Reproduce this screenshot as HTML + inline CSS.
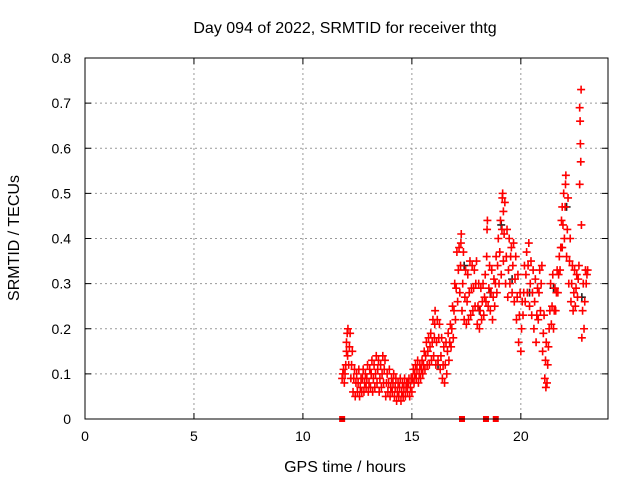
<!DOCTYPE html>
<html><head><meta charset="utf-8"><style>
body{margin:0;background:#fff;}
svg{display:block;font-family:"Liberation Sans",sans-serif;}
</style></head><body>
<svg id="chart" width="640" height="480">
<text x="345" y="33" font-size="16" text-anchor="middle">Day 094 of 2022, SRMTID for receiver thtg</text>
<text x="345" y="472" font-size="16" text-anchor="middle">GPS time / hours</text>
<text transform="translate(19,238) rotate(-90)" font-size="16" text-anchor="middle">SRMTID / TECUs</text>
<g id="grid"></g><g id="ticks"></g><g id="marks"></g>
<rect x="85" y="58" width="523" height="361" fill="none" stroke="#000" stroke-width="1"/>
</svg>
<script>
const xTicks=[0,5,10,15,20];
const yTicks=[0,0.1,0.2,0.3,0.4,0.5,0.6,0.7,0.8];
const yTickLabels=["0","0.1","0.2","0.3","0.4","0.5","0.6","0.7","0.8"];
const hours=[11.8,11.9,12.0,12.1,12.2,12.3,12.4,12.5,12.6,12.7,12.8,12.9,13.0,13.1,13.2,13.3,13.4,13.5,13.6,13.7,13.8,13.9,14.0,14.1,14.2,14.3,14.4,14.5,14.6,14.7,14.8,14.9,15.0,15.1,15.2,15.3,15.4,15.5,15.6,15.7,15.8,15.9,16.0,16.1,16.2,16.3,16.4,16.5,16.6,16.7,16.8,16.9,17.0,17.1,17.2,17.3,17.4,17.5,17.6,17.7,17.8,17.9,18.0,18.1,18.2,18.3,18.4,18.5,18.6,18.7,18.8,18.9,19.0,19.1,19.2,19.3,19.4,19.5,19.6,19.7,19.8,19.9,20.0,20.1,20.2,20.3,20.4,20.5,20.6,20.7,20.8,20.9,21.0,21.1,21.2,21.3,21.4,21.5,21.6,21.7,21.8,21.9,22.0,22.1,22.2,22.3,22.4,22.5,22.6,22.7,22.8,22.9,23.0];
const lowVals=[.09,.08,.15,.12,.09,.06,.05,.06,.05,.06,.06,.07,.06,.07,.06,.07,.08,.06,.07,.08,.05,.06,.05,.06,.05,.04,.05,.04,.05,.05,.06,.05,.06,.08,.09,.08,.09,.10,.11,.12,.12,.13,.14,.12,.13,.11,.09,.08,.10,.13,.16,.18,.22,.26,.28,.24,.22,.21,.22,.23,.24,.25,.21,.20,.22,.23,.26,.25,.24,.22,.25,.28,.30,.32,.35,.30,.27,.30,.28,.26,.22,.17,.15,.23,.26,.28,.25,.23,.20,.17,.22,.24,.15,.09,.08,.20,.21,.20,.24,.28,.33,.38,.40,.36,.30,.26,.24,.25,.27,.52,.18,.20,.30];
const midVals=[.10,.10,.19,.16,.12,.09,.08,.08,.07,.09,.08,.09,.08,.10,.09,.10,.11,.09,.10,.11,.08,.08,.07,.08,.07,.06,.07,.06,.07,.07,.08,.07,.09,.10,.11,.10,.11,.12,.14,.15,.16,.17,.18,.17,.18,.14,.12,.12,.15,.17,.20,.24,.29,.33,.34,.30,.27,.26,.28,.29,.29,.30,.25,.24,.26,.27,.36,.29,.28,.27,.30,.34,.37,.42,.41,.36,.33,.36,.34,.31,.27,.23,.20,.28,.32,.34,.30,.28,.26,.23,.28,.30,.19,.13,.12,.24,.25,.24,.28,.32,.38,.43,.47,.42,.35,.30,.28,.29,.31,.61,.24,.26,.32];
const highVals=[.11,.12,.20,.19,.15,.11,.10,.11,.09,.11,.10,.12,.11,.13,.12,.14,.13,.12,.14,.13,.10,.11,.09,.10,.09,.08,.09,.08,.09,.08,.09,.09,.11,.12,.13,.12,.13,.15,.17,.18,.19,.22,.24,.22,.21,.18,.16,.17,.19,.21,.25,.30,.37,.38,.41,.37,.33,.32,.35,.34,.33,.35,.30,.29,.30,.32,.44,.34,.33,.31,.36,.40,.44,.50,.48,.42,.40,.38,.39,.36,.32,.28,.26,.34,.37,.39,.35,.33,.31,.29,.33,.34,.23,.17,.16,.30,.32,.29,.33,.36,.44,.50,.54,.49,.40,.34,.33,.32,.34,.73,.30,.33,.33];
const extraHours=[12.0,12.05,16.05,17.25,18.45,19.15,19.2,21.15,21.9,22.05,22.7,22.72,22.75,22.78];
const extraVals=[.17,.14,.21,.39,.42,.49,.46,.07,.47,.52,.69,.66,.57,.43];
const blackHours=[16.2,17.4,18.1,18.6,19.1,19.6,20.4,21.5,22.1,22.8];
const blackVals=[.12,.34,.24,.28,.43,.31,.28,.29,.47,.27];
const squareHours=[11.8,17.3,18.4,18.85];
const X=h=>85+h*(523/24);
const Y=v=>419-v*(361/0.8);
const NS="http://www.w3.org/2000/svg";
const grid=document.getElementById('grid'),ticks=document.getElementById('ticks'),marks=document.getElementById('marks');
function mk(tag,attrs,parent){const e=document.createElementNS(NS,tag);for(const k in attrs)e.setAttribute(k,attrs[k]);parent.appendChild(e);return e;}
xTicks.forEach(t=>{
 const x=X(t);
 if(t>0){const g=mk('line',{x1:x,x2:x,y1:58,y2:419,stroke:'#999','stroke-dasharray':'2,3'},grid);
 
 }
 mk('line',{x1:x,x2:x,y1:419,y2:413,stroke:'#000'},ticks);
 mk('line',{x1:x,x2:x,y1:58,y2:64,stroke:'#000'},ticks);
 const tx=mk('text',{x:x,y:441,'font-size':14,'text-anchor':'middle'},ticks);tx.textContent=t;
 
 
});
yTicks.forEach((t,i)=>{
 const y=Y(t);
 if(t>0&&t<0.8){const g=mk('line',{x1:85,x2:608,y1:y,y2:y,stroke:'#999','stroke-dasharray':'2,3'},grid);
 
 }
 mk('line',{x1:85,x2:91,y1:y,y2:y,stroke:'#000'},ticks);
 mk('line',{x1:602,x2:608,y1:y,y2:y,stroke:'#000'},ticks);
 const tx=mk('text',{x:71,y:y+5,'font-size':14,'text-anchor':'end'},ticks);tx.textContent=yTickLabels[i];
 
 
});
function plus(h,v,color,name){
 const x=X(h),y=Y(v);
 const p=mk('path',{d:`M${x-4},${y}H${x+4}M${x},${y-4}V${y+4}`,stroke:color,'stroke-width':1.6,fill:'none'},marks);
 
 
}
blackHours.forEach((h,i)=>plus(h,blackVals[i],'#222','point-black'));
hours.forEach((h,i)=>{
 plus(h,lowVals[i],'#f00','point-low');
 plus(h+0.033,midVals[i],'#f00','point-mid');
 plus(h+0.066,highVals[i],'#f00','point-high');
});
extraHours.forEach((h,i)=>plus(h,extraVals[i],'#f00','point-extra'));
squareHours.forEach(h=>{
 const r=mk('rect',{x:X(h)-3,y:416,width:6,height:6,fill:'#f00'},marks);
 
 
});
</script>
</body></html>
